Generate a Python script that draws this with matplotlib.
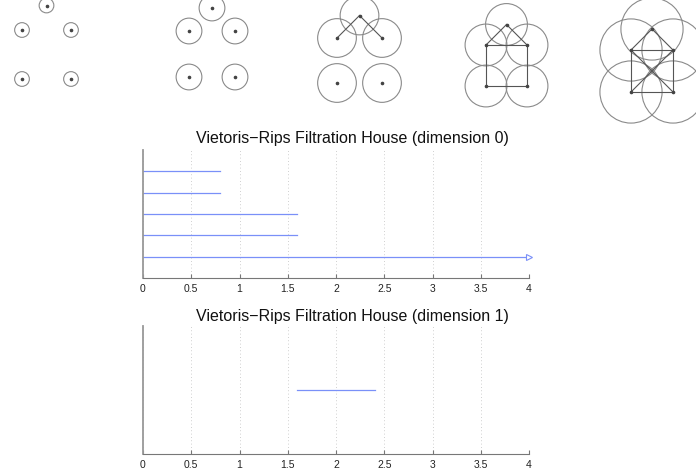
import matplotlib
matplotlib.use('Agg')
import matplotlib.pyplot as plt
from matplotlib.patches import Circle
import numpy as np

plt.rcParams['font.family'] = ['Liberation Sans', 'DejaVu Sans']

# house point cloud
house_x = [0, 1, 0, 1, 0.5]
house_y = [0, 0, 1, 1, 1.5]
# ball radius in each filtration step
radii = [0.15, 0.28, 0.43, 0.51, 0.74]
# edges (index pairs) present at each step
roof = [(2, 4), (3, 4)]
square = [(0, 1), (1, 3), (3, 2), (2, 0)]
diag = [(0, 3), (1, 2)]
edges = [[], [], roof, roof + square, roof + square + diag]

# barcodes
dim0_birth = [0, 0, 0, 0, 0]
dim0_death = [np.inf, 1.6, 1.6, 0.8, 0.8]
dim1_birth = [1.6]
dim1_death = [2.4]
x_max = 4
xticks = [0, 0.5, 1, 1.5, 2, 2.5, 3, 3.5, 4]
xticklabels = ['0', '0.5', '1', '1.5', '2', '2.5', '3', '3.5', '4']

W, H = 696, 470
fig = plt.figure(figsize=(W / 100, H / 100), dpi=100)

# placement of the five small pictures (pixel of point (0,0) and px per unit)
origin_px = [(22, 79), (189, 77), (337, 83), (486, 86), (631, 92)]
scale_px = [49, 46, 45, 41, 42]
box_w, box_h = 130, 125

for i in range(5):
    ox, oy = origin_px[i]
    s = scale_px[i]
    left = ox + 0.5 * s - box_w / 2
    ax = fig.add_axes([left / W, 1 - box_h / H, box_w / W, box_h / H])
    ax.set_xlim((left - ox) / s, (left + box_w - ox) / s)
    ax.set_ylim((oy - box_h) / s, oy / s)
    ax.axis('off')
    for a, b in edges[i]:
        ax.plot([house_x[a], house_x[b]], [house_y[a], house_y[b]],
                color='#555555', lw=0.8, clip_on=False)
    for x, y in zip(house_x, house_y):
        ax.add_patch(Circle((x, y), radii[i], fill=False, ec='#8a8a8a',
                            lw=0.8, clip_on=False))
    ax.plot(house_x, house_y, 'o', color='#444444', ms=1.6, clip_on=False)

bar_color = '#7a90f8'


def barcode(rect, births, deaths, title, title_y, ylim):
    ax = fig.add_axes(rect)
    ypos = np.arange(1, len(births) + 1)
    for y, b, d in zip(ypos, births, deaths):
        end = x_max if np.isinf(d) else d
        ax.plot([b, end], [y, y], color=bar_color, lw=0.9)
        if np.isinf(d):
            ax.plot([x_max], [y], marker='>', ms=4.5, mfc='white',
                    mec=bar_color, mew=0.8, clip_on=False)
    ax.set_xlim(0, x_max)
    ax.set_ylim(0, ylim)
    ax.set_xticks(xticks)
    ax.set_xticklabels(xticklabels)
    ax.set_yticks([])
    ax.tick_params(axis='x', direction='in', length=3, width=0.8,
                   color='#777777', labelsize=7.5, pad=4, labelcolor='#222222')
    ax.grid(axis='x', linestyle=(0, (1, 3)), color='#c0c0c0', lw=0.6)
    for sp in ['top', 'right']:
        ax.spines[sp].set_visible(False)
    ax.spines['bottom'].set_color('#777777')
    ax.spines['left'].set_color('#999999')
    ax.spines['left'].set_linewidth(1.3)
    fig.text(352 / W, 1 - title_y / H, title, ha='center',
             va='center', fontsize=11.5, color='#111111')
    return ax


barcode([143 / W, 1 - 278 / H, (529 - 143) / W, (278 - 150) / H],
        dim0_birth, dim0_death,
        'Vietoris\u2212Rips Filtration House (dimension 0)', 138, 6)
barcode([143 / W, 1 - 454 / H, (529 - 143) / W, (454 - 326) / H],
        dim1_birth, dim1_death,
        'Vietoris\u2212Rips Filtration House (dimension 1)', 316, 2)

fig.savefig('out.png', dpi=100)
